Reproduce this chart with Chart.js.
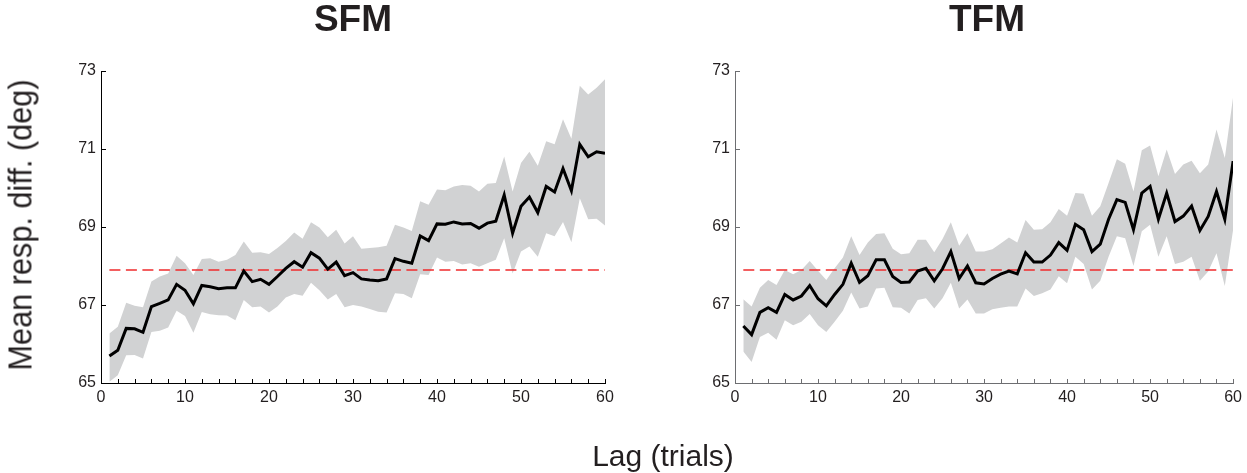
<!DOCTYPE html>
<html>
<head>
<meta charset="utf-8">
<script src="https://cdn.jsdelivr.net/npm/chart.js@4.4.1/dist/chart.umd.min.js"></script>
<style>
  body { margin: 0; background: #fff; width: 1247px; height: 473px; position: relative; overflow: hidden;
         font-family: "Liberation Sans", Arial, sans-serif; color: #231f20; }
  canvas { position: absolute; top: 0; }
  .txt { position: absolute; white-space: nowrap; line-height: 1; }
</style>
</head>
<body>
<canvas id="sfm" width="623" height="473" style="left:0"></canvas>
<canvas id="tfm" width="624" height="473" style="left:623px"></canvas>

<div class="txt" style="font-size:37px;font-weight:bold;left:353px;top:0px;transform:translateX(-50%)">SFM</div>
<div class="txt" style="font-size:37px;font-weight:bold;left:987px;top:0px;transform:translateX(-50%)">TFM</div>
<div class="txt" style="font-size:30px;left:663px;top:441px;transform:translateX(-50%)">Lag (trials)</div>
<div class="txt" style="font-size:33px;left:20px;top:225px;transform:translate(-50%,-50%) rotate(-90deg) scaleX(0.93)">Mean resp. diff. (deg)</div>

<script>
// lag (trials)
const lags = [1,2,3,4,5,6,7,8,9,10,11,12,13,14,15,16,17,18,19,20,
  21,22,23,24,25,26,27,28,29,30,31,32,33,34,35,36,37,38,39,40,
  41,42,43,44,45,46,47,48,49,50,51,52,53,54,55,56,57,58,59,60];

// SFM
const sfmMean = [65.69,65.84,66.40,66.39,66.30,66.96,67.04,67.13,67.53,67.38,
  67.03,67.50,67.47,67.42,67.44,67.44,67.87,67.60,67.66,67.53,
  67.73,67.94,68.11,67.97,68.34,68.20,67.92,68.10,67.75,67.83,
  67.67,67.64,67.62,67.67,68.19,68.12,68.07,68.77,68.65,69.08,
  69.07,69.13,69.08,69.09,68.97,69.10,69.15,69.82,68.84,69.53,
  69.77,69.37,70.04,69.90,70.50,69.93,71.12,70.80,70.93,70.89];
const sfmUpper = [66.27,66.44,67.06,66.98,66.94,67.60,67.73,67.81,68.26,68.07,
  67.77,68.18,68.20,68.11,68.16,68.28,68.63,68.34,68.35,68.31,
  68.46,68.64,68.86,68.70,69.12,68.99,68.74,68.93,68.58,68.76,
  68.44,68.46,68.48,68.52,69.06,68.99,68.90,69.66,69.57,69.96,
  69.94,70.04,70.08,70.06,69.91,70.11,70.13,70.81,69.91,70.64,
  70.93,70.57,71.20,71.12,71.76,71.26,72.62,72.40,72.57,72.79];
const sfmLower = [65.03,65.20,65.71,65.72,65.63,66.31,66.34,66.42,66.85,66.72,
  66.29,66.82,66.76,66.74,66.73,66.61,67.13,66.94,66.96,66.81,
  66.96,67.19,67.28,67.24,67.57,67.38,67.14,67.28,66.94,67.00,
  66.96,66.90,66.83,66.81,67.30,67.28,67.17,67.79,67.77,68.22,
  68.11,68.13,68.04,68.07,67.98,68.07,68.16,68.71,67.81,68.37,
  68.50,68.24,68.84,68.76,69.13,68.61,69.74,69.20,69.21,69.04];

// TFM
const tfmMean = [66.46,66.24,66.81,66.93,66.81,67.27,67.13,67.23,67.50,67.16,
  66.98,67.27,67.53,68.07,67.58,67.75,68.16,68.16,67.73,67.58,
  67.59,67.87,67.94,67.62,67.93,68.37,67.68,68.00,67.57,67.54,
  67.68,67.79,67.87,67.80,68.34,68.10,68.10,68.28,68.60,68.40,
  69.07,68.93,68.37,68.56,69.20,69.70,69.63,68.93,69.87,70.04,
  69.20,69.87,69.14,69.28,69.54,68.91,69.27,69.91,69.20,70.69];
const tfmUpper = [67.15,66.96,67.44,67.64,67.51,67.90,67.79,67.90,68.13,67.88,
  67.64,67.94,68.22,68.76,68.28,68.60,68.82,68.84,68.44,68.30,
  68.33,68.67,68.67,68.35,68.69,69.12,68.52,68.84,68.37,68.37,
  68.43,68.58,68.73,68.60,69.18,68.93,68.94,69.12,69.46,69.29,
  69.87,69.85,69.29,69.53,70.13,70.74,70.62,69.91,70.97,71.09,
  70.30,70.99,70.36,70.60,70.70,70.38,70.60,71.50,70.77,72.33];
const tfmLower = [65.81,65.54,66.18,66.29,66.11,66.61,66.48,66.57,66.77,66.48,
  66.31,66.57,66.85,67.32,66.91,66.96,67.42,67.44,66.94,66.93,
  66.78,67.13,67.17,66.91,67.17,67.57,66.91,67.14,66.78,66.78,
  66.89,66.93,66.96,66.96,67.42,67.23,67.30,67.40,67.74,67.56,
  68.24,68.05,67.40,67.62,68.24,68.76,68.71,68.00,68.89,69.06,
  68.24,68.76,68.05,68.11,68.24,67.62,67.86,68.33,67.49,68.93];

// dashed reference level, drawn from lag 1 to lag 60
const refLags = [1, 60];
const refLevel = [67.9, 67.9];

// axis ticks
const yTicks = [65, 67, 69, 71, 73];
const xMinorTicks = [0,2,4,6,8,10,12,14,16,18,20,22,24,26,28,30,32,34,36,38,40,42,44,46,48,50,52,54,56,58,60];

const FONT = '"Liberation Sans", Arial, sans-serif';
const pts = (xs, ys) => xs.map((x, i) => ({ x, y: ys[i] }));

// small inward ticks like the original figure
const innerTicks = {
  id: 'innerTicks',
  afterDraw(chart, args, opts) {
    const { ctx, chartArea: a } = chart;
    const x = chart.scales.x, y = chart.scales.y;
    ctx.save();
    ctx.strokeStyle = opts.color;
    ctx.lineWidth = 1;
    ctx.beginPath();
    for (const v of xMinorTicks) {
      const px = Math.round(x.getPixelForValue(v)) + 0.5;
      ctx.moveTo(px, a.bottom);
      ctx.lineTo(px, a.bottom - 4);
    }
    for (const v of yTicks) {
      const py = Math.round(y.getPixelForValue(v)) + 0.5;
      ctx.moveTo(a.left, py);
      ctx.lineTo(a.left + 5, py);
    }
    ctx.stroke();
    ctx.restore();
  }
};

function makePanel(id, mean, upper, lower, axisColor, yWidth, padRight) {
  return new Chart(document.getElementById(id), {
    type: 'line',
    data: {
      datasets: [
        { data: pts(lags, upper), fill: '+1', backgroundColor: '#d1d2d3', borderWidth: 0, pointRadius: 0, order: 3 },
        { data: pts(lags, lower), fill: false, borderWidth: 0, pointRadius: 0, order: 3 },
        { data: pts(refLags, refLevel), borderColor: '#ef2b2d', borderWidth: 1.5, borderDash: [11, 5.5], pointRadius: 0, fill: false, order: 2 },
        { data: pts(lags, mean), borderColor: '#000', borderWidth: 3, pointRadius: 0, fill: false, tension: 0, order: 1 }
      ]
    },
    options: {
      responsive: false,
      animation: false,
      events: [],
      layout: { padding: { left: 0, right: padRight, top: 71, bottom: 0 } },
      plugins: { legend: { display: false }, tooltip: { enabled: false }, innerTicks: { color: axisColor } },
      scales: {
        x: {
          type: 'linear', min: 0, max: 60,
          afterFit(s) { s.height = 90; },
          border: { color: axisColor, width: 1 },
          grid: { drawOnChartArea: false, drawTicks: false },
          ticks: { stepSize: 10, padding: 5, maxRotation: 0, color: '#231f20', font: { family: FONT, size: 16 } }
        },
        y: {
          min: 65, max: 73,
          afterFit(s) { s.width = yWidth; },
          border: { color: axisColor, width: 1 },
          grid: { drawOnChartArea: false, drawTicks: false },
          ticks: { stepSize: 2, padding: 5, color: '#231f20', font: { family: FONT, size: 16 } }
        }
      }
    },
    plugins: [innerTicks]
  });
}

makePanel('sfm', sfmMean, sfmUpper, sfmLower, '#000', 101, 18);
makePanel('tfm', tfmMean, tfmUpper, tfmLower, '#6d6e71', 112, 8);
</script>
</body>
</html>
